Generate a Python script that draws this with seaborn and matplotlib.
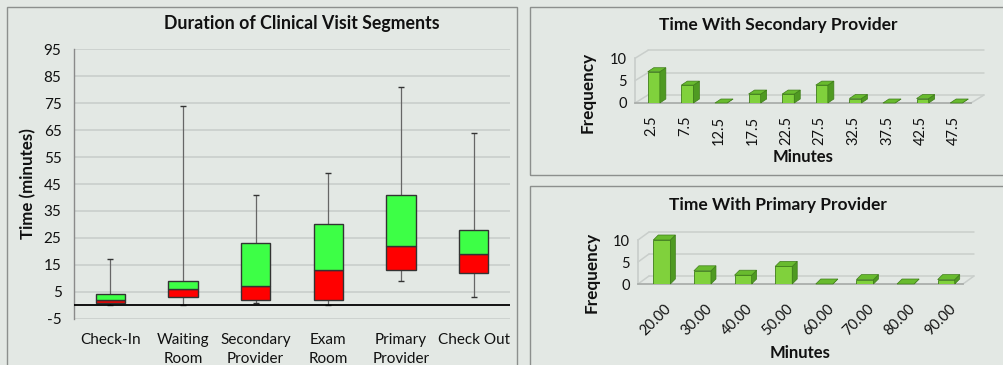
import numpy as np
import pandas as pd
import matplotlib
matplotlib.use("Agg")
import matplotlib.pyplot as plt
import seaborn as sns
from matplotlib.patches import Rectangle, Polygon
from matplotlib.transforms import ScaledTranslation

# ---------------- data ----------------
segments = ["Check-In", "Waiting\nRoom", "Secondary\nProvider", "Exam\nRoom",
            "Primary\nProvider", "Check Out"]
seg_min = [0, 0, 1, 0, 9, 3]
seg_q1 = [1, 3, 2, 2, 13, 12]
seg_median = [2, 6, 7, 13, 22, 19]
seg_q3 = [4, 9, 23, 30, 41, 28]
seg_max = [17, 74, 41, 49, 81, 64]

sec_bins = ["2.5", "7.5", "12.5", "17.5", "22.5", "27.5", "32.5", "37.5", "42.5", "47.5"]
sec_freq = [7, 4, 0, 2, 2, 4, 1, 0, 1, 0]

pri_bins = ["20.00", "30.00", "40.00", "50.00", "60.00", "70.00", "80.00", "90.00"]
pri_freq = [10, 3, 2, 4, 0, 1, 0, 1]

# ---------------- style ----------------
W, H = 1004, 365
BG = "#e3e8e4"
GRID = "#c9cecb"
FRONT = "#80d13c"
SIDE = "#4f9a22"
TOP = "#68bb2e"
EDGE = "#3f7d1a"

sns.set_theme(style="white")
plt.rcParams['font.family'] = ['Lato', 'DejaVu Sans']
plt.rcParams['axes.unicode_minus'] = False
plt.rcParams['text.color'] = '#111111'
plt.rcParams['xtick.color'] = '#111111'
plt.rcParams['ytick.color'] = '#111111'

fig = plt.figure(figsize=(W / 100, H / 100), dpi=100, facecolor=BG)


def fx(x):
    return x / W


def fy(y):
    return 1 - y / H


def panel(x0, y0, x1, y1):
    fig.add_artist(Rectangle((fx(x0), fy(y1)), fx(x1) - fx(x0), fy(y0) - fy(y1),
                             transform=fig.transFigure, fill=False,
                             edgecolor="#8c8f8d", linewidth=1.0))


panel(7.5, 6.5, 517, 372)
panel(530.5, 6.5, 1010, 175)
panel(530.5, 186.5, 1010, 372)

# ---------------- left: box chart ----------------
ax1 = fig.add_axes([fx(74), fy(318.7), fx(510) - fx(74), fy(49.3) - fy(318.7)])
ax1.patch.set_alpha(0)
box_df = pd.DataFrame({"segment": segments,
                       "lower": np.array(seg_median) - np.array(seg_q1),
                       "upper": np.array(seg_q3) - np.array(seg_median)})
sns.barplot(data=box_df, x="segment", y="lower", color="#ff0000", saturation=1,
            width=0.4, edgecolor="#333333", linewidth=1.0, errorbar=None, ax=ax1, zorder=3)
for p, b in zip(ax1.patches, seg_q1):
    p.set_y(b)
n0 = len(ax1.patches)
sns.barplot(data=box_df, x="segment", y="upper", color="#3dff46", saturation=1,
            width=0.4, edgecolor="#333333", linewidth=1.0, errorbar=None, ax=ax1, zorder=3)
for p, b in zip(ax1.patches[n0:], seg_median):
    p.set_y(b)

xs = np.arange(len(segments))
ax1.vlines(xs, seg_min, seg_q1, colors="#666666", linewidth=0.9, zorder=2)
ax1.vlines(xs, seg_q3, seg_max, colors="#666666", linewidth=0.9, zorder=2)
ax1.plot(xs, seg_max, linestyle="none", marker="_", markersize=4, color="#333333", zorder=2)
ax1.plot(xs, seg_min, linestyle="none", marker="_", markersize=4, color="#333333", zorder=2)
ax1.axhline(0, color="black", linewidth=1.3, zorder=4)

ax1.set_xlim(-0.5, len(segments) - 0.5)
ax1.set_ylim(-5, 95)
ax1.set_yticks(np.arange(-5, 96, 10))
ax1.yaxis.grid(True, color=GRID, linewidth=1.2)
ax1.set_axisbelow(True)
for s in ["top", "right", "bottom"]:
    ax1.spines[s].set_visible(False)
ax1.spines["left"].set_color("#8a8a8a")
ax1.spines["left"].set_linewidth(1.0)
ax1.tick_params(axis="y", length=5, width=1.2, color=GRID, pad=4, labelsize=11)
ax1.tick_params(axis="x", length=0, pad=10, labelsize=11)
for lbl in ax1.get_xticklabels():
    lbl.set_linespacing(1.45)
ax1.set_xlabel("")
ax1.set_ylabel("")
fig.text(fx(302), fy(23), "Duration of Clinical Visit Segments", ha="center", va="center",
         fontsize=12.8, fontweight="bold")
fig.text(fx(28), fy(184), "Time (minutes)", ha="center", va="center", rotation=90,
         fontsize=12.2, fontweight="bold")


# ---------------- right: 3D-look histograms ----------------
def hist3d(rect, cats, freqs, bar_w, bar_d, wall_d, shift):
    ax = fig.add_axes(rect)
    ax.patch.set_alpha(0)
    df = pd.DataFrame({"bin": cats, "freq": freqs})
    sns.barplot(data=df, x="bin", y="freq", color=FRONT, saturation=1, width=bar_w,
                edgecolor=EDGE, linewidth=0.6, errorbar=None, ax=ax, zorder=4)
    n = len(cats)
    ax.set_xlim(-0.5, n - 0.5)
    ax.set_ylim(0, 10)
    bb = ax.get_position()
    ux = bb.width * W / n
    uy = bb.height * H / 10
    bdx, bdy = bar_d[0] / ux, bar_d[1] / uy
    wdx, wdy = wall_d[0] / ux, wall_d[1] / uy
    sh = shift / ux
    for p in ax.patches:
        p.set_x(p.get_x() + sh)
        x0 = p.get_x()
        x1 = x0 + p.get_width()
        h = p.get_height()
        ax.add_patch(Polygon([(x1, 0), (x1, h), (x1 + bdx, h + bdy), (x1 + bdx, bdy)],
                             closed=True, facecolor=SIDE, edgecolor=EDGE, linewidth=0.5,
                             zorder=4, clip_on=False))
        ax.add_patch(Polygon([(x0, h), (x1, h), (x1 + bdx, h + bdy), (x0 + bdx, h + bdy)],
                             closed=True, facecolor=TOP, edgecolor=EDGE, linewidth=0.5,
                             zorder=5, clip_on=False))
    for yv in [0, 5, 10]:
        ax.plot([-0.5 + wdx, n - 0.5 + wdx], [yv + wdy, yv + wdy], color=GRID, lw=1.1,
                clip_on=False, zorder=1)
        ax.plot([-0.5, -0.5 + wdx], [yv, yv + wdy], color=GRID, lw=1.1,
                clip_on=False, zorder=1)
    ax.plot([n - 0.5, n - 0.5 + wdx], [0, wdy], color=GRID, lw=1.1, clip_on=False, zorder=1)
    ax.set_yticks([0, 5, 10])
    ax.set_xticks(np.arange(-0.5, n, 1), minor=True)
    for s in ["top", "right"]:
        ax.spines[s].set_visible(False)
    ax.spines["bottom"].set_color("#a8aca9")
    ax.spines["left"].set_color(GRID)
    ax.tick_params(axis="y", length=4, color="#a8aca9", pad=2, labelsize=10.5)
    ax.tick_params(axis="x", which="major", length=0, labelsize=10.5)
    ax.tick_params(axis="x", which="minor", length=4, color="#a8aca9")
    ax.set_xlabel("")
    ax.set_ylabel("")
    return ax


ax2 = hist3d([fx(635), fy(103), fx(971) - fx(635), fy(58.3) - fy(103)],
             sec_bins, sec_freq, 0.36, (6, 4), (13, 8), 2)
ax2.tick_params(axis="x", which="major", pad=9)
for lbl in ax2.get_xticklabels():
    lbl.set_rotation(90)
fig.text(fx(778), fy(25), "Time With Secondary Provider", ha="center", va="center",
         fontsize=12.5, fontweight="bold")
fig.text(fx(588), fy(92), "Frequency", ha="center", va="center", rotation=90,
         fontsize=12.3, fontweight="bold")
fig.text(fx(803), fy(157), "Minutes", ha="center", va="center",
         fontsize=12, fontweight="bold")

ax3 = hist3d([fx(638), fy(284), fx(963) - fx(638), fy(240) - fy(284)],
             pri_bins, pri_freq, 0.42, (5, 5), (11, 8), 3.5)
ax3.tick_params(axis="x", which="major", pad=13)
for lbl in ax3.get_xticklabels():
    lbl.set_rotation(45)
    lbl.set_ha("right")
    lbl.set_va("top")
    lbl.set_rotation_mode("anchor")
    lbl.set_transform(lbl.get_transform() + ScaledTranslation(6 / 100, 0, fig.dpi_scale_trans))
fig.text(fx(778), fy(205), "Time With Primary Provider", ha="center", va="center",
         fontsize=12.5, fontweight="bold")
fig.text(fx(592), fy(272), "Frequency", ha="center", va="center", rotation=90,
         fontsize=12.3, fontweight="bold")
fig.text(fx(800), fy(353), "Minutes", ha="center", va="center",
         fontsize=12, fontweight="bold")

fig.savefig("out.png", dpi=100, facecolor=BG)
